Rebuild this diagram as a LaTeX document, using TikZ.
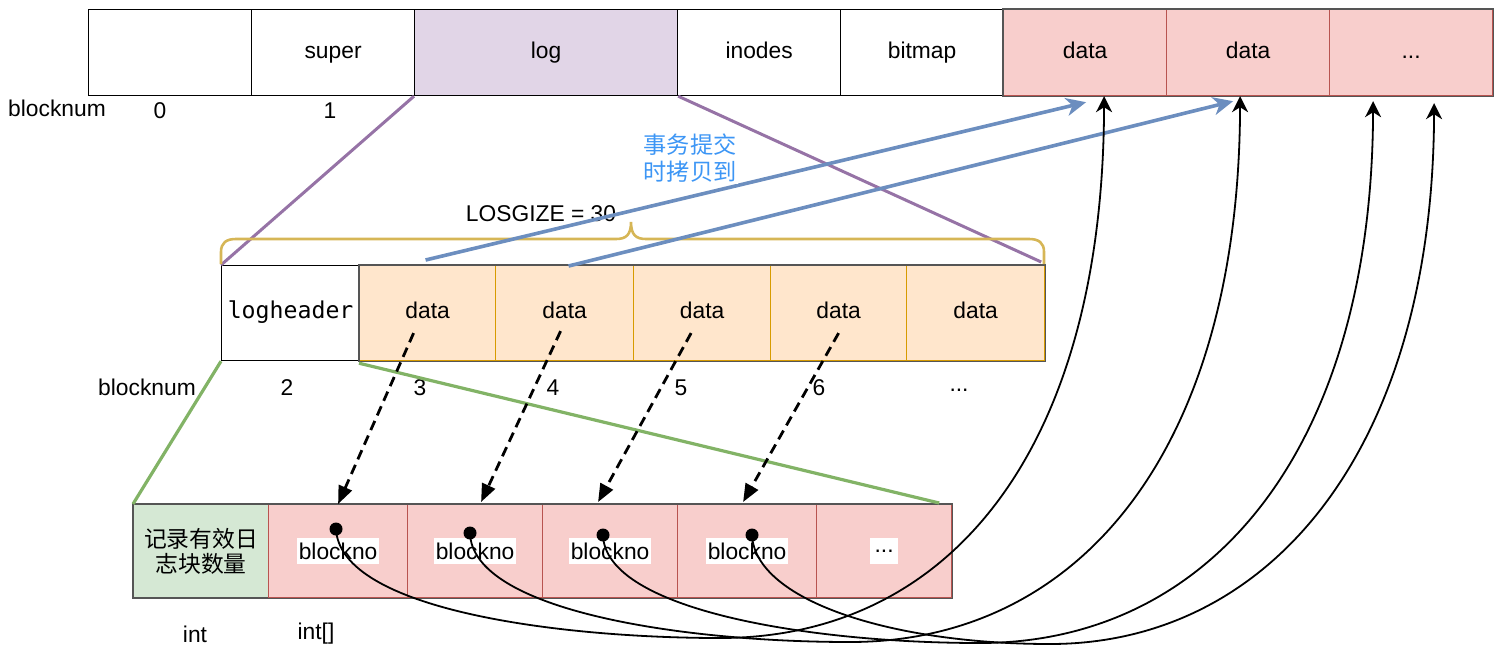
\documentclass[tikz,border=0pt]{standalone}
\usepackage{fontspec}
\setmainfont{Liberation Sans}
\newfontfamily\cjkfont{Noto Sans CJK SC}
\newfontfamily\codefont{DejaVu Sans Mono}
\usetikzlibrary{arrows.meta,calc,positioning}
\definecolor{Frame}{HTML}{555555}
\definecolor{LogFill}{HTML}{E1D5E7}
\definecolor{LogLine}{HTML}{9673A6}
\definecolor{DataFill}{HTML}{F8CECC}
\definecolor{DataLine}{HTML}{B85450}
\definecolor{JourFill}{HTML}{FFE6CC}
\definecolor{JourLine}{HTML}{D79B00}
\definecolor{CountFill}{HTML}{D5E8D4}
\definecolor{CountLine}{HTML}{82B366}
\definecolor{Brace}{HTML}{D6B656}
\definecolor{Copy}{HTML}{6C8EBF}
\definecolor{CopyText}{HTML}{3D96F5}
\begin{document}
\begin{tikzpicture}[x=0.5pt,y=-0.5pt,
    cell/.style={draw=black,line width=0.6pt,inner sep=0pt,anchor=north west,
      text height=8pt,text depth=2.4pt,
      font=\fontsize{11.4pt}{13.4pt}\selectfont},
    lbl/.style={inner sep=0pt,font=\fontsize{11.4pt}{13.4pt}\selectfont},
    tag/.style={fill=white,inner sep=1pt,minimum height=13pt,
      font=\fontsize{11.4pt}{13.4pt}\selectfont},
    dot/.style={circle,fill=black,inner sep=0pt,minimum size=6.5pt},
    copyline/.style={Copy,line width=1.8pt,-{Stealth[length=10pt,width=9pt,inset=3pt]}},
    fetch/.style={black,line width=1.4pt,dash pattern=on 5pt off 3pt,
      -{Triangle[length=9pt,width=7pt]}},
    link/.style={black,line width=0.9pt,-{Stealth[length=8pt,width=8pt,inset=2.5pt]}}]
  \useasboundingbox (0,0) rectangle (1507,658);

  % disk layout
  \foreach \name/\txt/\x/\w/\fc/\dc in {
    t0//88/163/white/black,
    t1/super/251/163/white/black,
    t2/log/414/263/LogFill/black,
    t3/inodes/677/163/white/black,
    t4/bitmap/840/163/white/black,
    t5/data/1003/163/DataFill/DataLine,
    t6/data/1166/163/DataFill/DataLine}{
    \node[cell,fill=\fc,draw=\dc,minimum width=\w*0.5pt,minimum height=86*0.5pt] (\name) at (\x,9) {\txt};
  }
  \node[cell,fill=DataFill,draw=DataLine,minimum width=163*0.5pt,minimum height=86*0.5pt] (t7) at (1329,9) {...};
  \draw[Frame,line width=0.6pt] (t5.north west) rectangle (t7.south east);
  \node[lbl] (top num) at (57,108) {blocknum};
  \node[lbl] (n0) at (160,111) {0};
  \node[lbl] (n1) at (330,111) {1};

  % log area
  \node[cell,fill=white,minimum width=138*0.5pt,minimum height=95*0.5pt,
    font=\codefont\fontsize{11.6pt}{13.4pt}\selectfont] (m0) at (221,265) {logheader};
  \foreach \name/\x/\w in {m1/359/136,m2/495/138,m3/633/137,m4/770/136,m5/906/138}{
    \node[cell,fill=JourFill,draw=JourLine,minimum width=\w*0.5pt,minimum height=95*0.5pt] (\name) at (\x,265) {data};
  }
  \draw[Frame,line width=0.6pt] (m1.north west) rectangle (m5.south east);
  \node[lbl] (mid num) at (147,387) {blocknum};
  \foreach \name/\txt/\x in {n2/2/287,n3/3/420,n4/4/553,n5/5/681,n6/6/819}{
    \node[lbl] (\name) at (\x,388) {\txt};
  }
  \node[lbl] (n7) at (959,390) {...};

  % log header
  \node[cell,fill=CountFill,draw=Frame,minimum width=135*0.5pt,minimum height=93*0.5pt,
    text height=,text depth=,
    align=center,font=\cjkfont\fontsize{11.4pt}{12.5pt}\selectfont] (b0) at (133,504) {记录有效日\\志块数量};
  \foreach \name/\x/\w in {b1/268/139,b2/407/135,b3/542/135,b4/677/139,b5/816/135}{
    \node[cell,fill=DataFill,draw=DataLine,minimum width=\w*0.5pt,minimum height=93*0.5pt] (\name) at (\x,504) {};
  }
  \draw[Frame,line width=0.6pt] (b0.north west) rectangle (b5.south east);
  \foreach \k in {1,2,3,4}{
    \node[tag] (k\k) at (b\k.center) {blockno};
  }
  \node[tag,minimum width=14pt] (k5) at (b5.center) {...};
  \node[lbl] (int a) at (195,634) {int};
  \node[lbl] (int b) at (316,634) {int[]};

  % zoom lines
  \draw[LogLine,line width=1.5pt] (t2.south west) -- (m0.north west);
  \draw[LogLine,line width=1.5pt] (t2.south east) -- ($(m5.north east)+(-4,-3)$);
  \draw[CountLine,line width=1.6pt] (m0.south west) -- (b0.north west);
  \draw[CountLine,line width=1.6pt] ($(m1.south west)+(0,2)$) -- ($(b5.north east)+(-13,-1)$);

  % LOSGIZE brace
  \draw[Brace,line width=1.3pt] (221,264) -- (221,252) .. controls (221,243) and (226,239) .. (236,239)
    -- (616,239) .. controls (626,239) and (631,235) .. (631,222)
    .. controls (631,235) and (636,239) .. (646,239) -- (1029,239)
    .. controls (1039,239) and (1044,243) .. (1044,252) -- (1044,264);
  \node[lbl] (size) at (541,214) {LOSGIZE = 30};

  % commit copy
  \draw[copyline] ($(m1.north)+(-2,-5)$) -- ($(t5.south)+(1,6)$);
  \draw[copyline] ($(m2.north)+(4,1)$) -- ($(t6.south)+(-15,5)$);
  \node[fill=white,inner sep=1pt,align=center,text=CopyText,
    font=\cjkfont\fontsize{11.6pt}{13.5pt}\selectfont] (commit) at (690,158) {事务提交\\时拷贝到};

  % block numbers
  \draw[fetch] ($(m1.center)+(-14,20)$) -- (b1.north);
  \draw[fetch] ($(m2.center)+(-4,18)$) -- ($(b2.north)+(6,-2)$);
  \draw[fetch] ($(m3.center)+(-11,20)$) -- ($(b3.north)+(-12,-2)$);
  \draw[fetch] ($(m4.center)+(0,20)$) -- ($(b4.north)+(-4,-2)$);

  \node[dot] (p1) at (336,529) {};
  \node[dot] (p2) at (470,533) {};
  \node[dot] (p3) at (603,535) {};
  \node[dot] (p4) at (752,535) {};
  \coordinate (q1) at ($(t5.south)+(19,0)$);
  \coordinate (q2) at ($(t6.south)+(-8,0)$);
  \coordinate (q3) at ($(t7.south)+(-38,5)$);
  \coordinate (q4) at ($(t7.south)+(23,7)$);
  \draw[link] (p1.center) .. controls (340,610) and (560,638) .. (720,638)
    .. controls (950,638) and (1103,450) .. (q1);
  \draw[link] (p2.center) .. controls (472,610) and (680,642) .. (850,642)
    .. controls (1080,642) and (1239,450) .. (q2);
  \draw[link] (p3.center) .. controls (605,610) and (810,643) .. (980,643)
    .. controls (1210,643) and (1372,450) .. (q3);
  \draw[link] (p4.center) .. controls (755,600) and (890,644) .. (1050,644)
    .. controls (1270,644) and (1433,450) .. (q4);
\end{tikzpicture}
\end{document}
